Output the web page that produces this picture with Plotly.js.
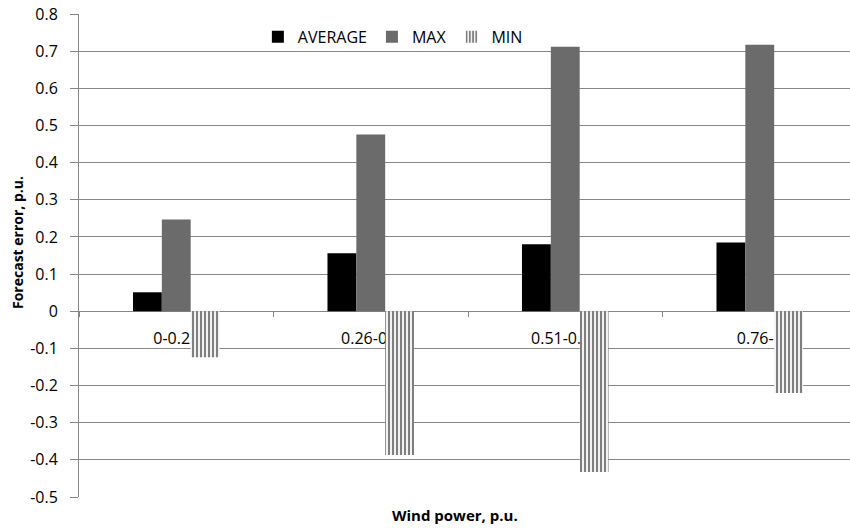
<!DOCTYPE html>
<html>
<head>
<meta charset="utf-8">
<script src="https://cdn.plot.ly/plotly-3.0.1.min.js"></script>
<style>html,body{margin:0;padding:0;background:#fff;}#chart{width:850px;height:528px;}</style>
</head>
<body>
<div id="chart"></div>
<script>
const categories = ["0-0.25", "0.26-0.5", "0.51-0.75", "0.76-1"];
const seriesNames = ["AVERAGE", "MAX", "MIN"];
const averageValues = [0.051, 0.156, 0.180, 0.185];
const maxValues = [0.247, 0.476, 0.712, 0.717];
const minValues = [-0.124, -0.387, -0.433, -0.220];
const yTickValues = [0.8, 0.7, 0.6, 0.5, 0.4, 0.3, 0.2, 0.1, 0, -0.1, -0.2, -0.3, -0.4, -0.5];
const yTickLabels = ["0.8", "0.7", "0.6", "0.5", "0.4", "0.3", "0.2", "0.1", "0", "-0.1", "-0.2", "-0.3", "-0.4", "-0.5"];
const xTitle = "Wind power, p.u.";
const yTitle = "Forecast error, p.u.";

const FONT = "Open Sans, Noto Sans, sans-serif";
const GRID = "#868686";

const traces = [
  {type: "bar", name: seriesNames[0], x: categories, y: averageValues,
   marker: {color: "#000000", line: {width: 0}}},
  {type: "bar", name: seriesNames[1], x: categories, y: maxValues,
   marker: {color: "#6b6b6b", line: {width: 0}}},
  {type: "bar", name: seriesNames[2], x: categories, y: minValues,
   marker: {color: "#ffffff", line: {width: 0},
     pattern: {shape: "|", fgcolor: "#000000", bgcolor: "#ffffff", size: 4, solidity: 0.55, fillmode: "overlay"}}}
];

const plotTop = 14, plotBottom = 497;
const zeroFrac = (0 - (-0.5)) / (0.8 - (-0.5));

const layout = {
  width: 850, height: 528,
  margin: {l: 79, r: 0, t: plotTop, b: 528 - plotBottom, pad: 0},
  paper_bgcolor: "#ffffff", plot_bgcolor: "#ffffff",
  font: {family: FONT, size: 16, color: "#000000"},
  barmode: "group",
  bargap: 0.555,
  bargroupgap: 0,
  showlegend: true,
  legend: {orientation: "h", x: 0.232, y: 0.988, xanchor: "left", yanchor: "top",
    bgcolor: "rgba(0,0,0,0)", font: {family: FONT, size: 16, color: "#000"},
    traceorder: "normal", itemwidth: 30},
  xaxis: {type: "category", range: [-0.5, 3.464], anchor: "free", position: zeroFrac,
    showgrid: false, showline: true, linecolor: GRID, linewidth: 1,
    tickson: "boundaries", ticks: "outside", ticklen: 5, tickcolor: GRID, tickwidth: 1,
    layer: "below traces", tickfont: {family: FONT, size: 16, color: "#000"},
    ticklabelstandoff: 13},
  yaxis: {range: [-0.5, 0.8], tickvals: yTickValues, ticktext: yTickLabels,
    showgrid: true, gridcolor: GRID, gridwidth: 1, zeroline: true, zerolinecolor: GRID, zerolinewidth: 1,
    showline: true, linecolor: GRID, linewidth: 1, ticks: "outside", ticklen: 8, tickcolor: GRID,
    tickfont: {family: FONT, size: 16, color: "#000"}, ticklabelstandoff: 9},
  annotations: [
    {text: "<b>" + xTitle + "</b>", xref: "paper", yref: "paper", x: (455 - 79) / 771, y: -0.037,
     xanchor: "center", yanchor: "middle", showarrow: false, font: {family: FONT, size: 15, color: "#000"}},
    {text: "<b>" + yTitle + "</b>", xref: "paper", yref: "paper", x: -62 / 771, y: (plotBottom - 242) / 483,
     xanchor: "center", yanchor: "middle", textangle: -90, showarrow: false, font: {family: FONT, size: 14, color: "#000"}}
  ]
};

Plotly.newPlot("chart", traces, layout, {displayModeBar: false, staticPlot: true});
</script>
</body>
</html>
